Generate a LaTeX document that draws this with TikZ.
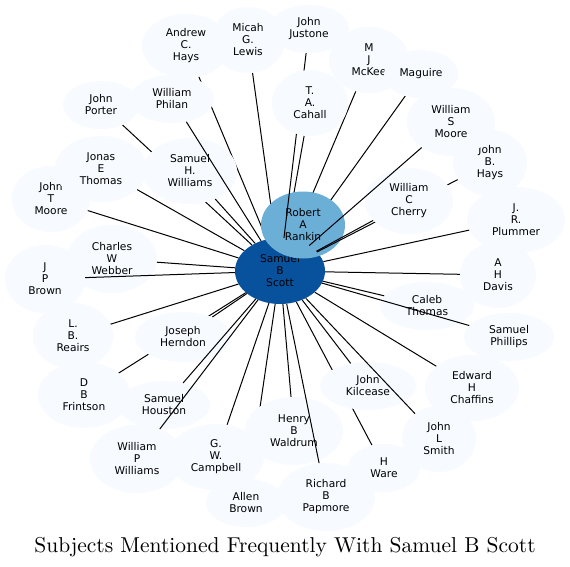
\documentclass[tikz,border=0pt]{standalone}
\usepackage{fontspec}
\usetikzlibrary{shapes.geometric}
\newfontfamily\dejavu{DejaVu Sans}
\newfontfamily\titlefnt{lmroman10-regular}[Extension=.otf]
\definecolor{nfill}{HTML}{F7FBFF}
\definecolor{scottc}{HTML}{08519C}
\definecolor{rankc}{HTML}{6BAED6}
\pgfdeclarelayer{bg}
\pgfdeclarelayer{eback}
\pgfdeclarelayer{ncenter}
\pgfdeclarelayer{emid}
\pgfdeclarelayer{efront}
\pgfsetlayers{bg,eback,ncenter,emid,main,efront}
\begin{document}
\begin{tikzpicture}[x=1pt,y=-1pt,
  pn/.style={ellipse, fill=nfill, inner sep=0pt, align=center, text=black,
    font={\dejavu\fontsize{10.67}{12}\selectfont}},
  sz/.style 2 args={minimum width=2*#1, minimum height=2*#2},
  edge/.style={line width=1pt, black},
  titlefont/.style={font={\titlefnt\fontsize{21.5}{26}\selectfont}}]
\begin{pgfonlayer}{bg}
\fill[white] (0,0) rectangle (570,567);
\end{pgfonlayer}
\useasboundingbox (0,0) rectangle (570,567);
% center nodes
\begin{pgfonlayer}{ncenter}
\node[pn, sz={45}{33}, fill=scottc] (scott) at (280,271) {Samuel\\B\\Scott};
\node[pn, sz={42}{33.5}, fill=rankc] (rankin) at (303,225) {Robert\\A\\Rankin};
\end{pgfonlayer}
% outer nodes
\node[pn, sz={44}{32}] (andrew) at (186,46) {Andrew\\C.\\Hays};
\node[pn, sz={37}{33}] (micah) at (248,40) {Micah\\G.\\Lewis};
\node[pn, sz={40}{24}] (justone) at (309,29) {John\\Justone};
\node[pn, sz={40}{33}] (mckee) at (369,60) {M\\J\\McKee};
\node[pn, sz={37}{24}] (maguire) at (421,74) {Maguire};
\node[pn, sz={38}{24}] (porter) at (101,105) {John\\Porter};
\node[pn, sz={42}{24}] (philan) at (172,99) {William\\Philan};
\node[pn, sz={38}{33}] (cahall) at (310,103) {T.\\A.\\Cahall};
\node[pn, sz={37}{33}] (jbhays) at (490,163) {John\\B.\\Hays};
\node[pn, sz={44}{34}] (wsmoore) at (451,122) {William\\S\\Moore};
\node[pn, sz={39}{33}] (jtmoore) at (51,199) {John\\T\\Moore};
\node[pn, sz={46}{33}] (jonas) at (101,169) {Jonas\\E\\Thomas};
\node[pn, sz={47}{33}] (shw) at (190,171) {Samuel\\H.\\Williams};
\node[pn, sz={44}{33}] (cherry) at (409,201) {William\\C\\Cherry};
\node[pn, sz={49}{33}] (plummer) at (516,220) {J.\\R.\\Plummer};
\node[pn, sz={40}{34}] (jpbrown) at (45,279) {J\\P\\Brown};
\node[pn, sz={45}{34}] (webber) at (112,259) {Charles\\W\\Webber};
\node[pn, sz={38}{33}] (davis) at (498,275) {A\\H\\Davis};
\node[pn, sz={47}{24}] (caleb) at (427,306) {Caleb\\Thomas};
\node[pn, sz={40}{33}] (reairs) at (73,336) {L.\\B.\\Reairs};
\node[pn, sz={48}{25}] (herndon) at (183,337) {Joseph\\Herndon};
\node[pn, sz={45}{24}] (phillips) at (509,337) {Samuel\\Phillips};
\node[pn, sz={46}{33}] (frintson) at (84,395) {D\\B\\Frintson};
\node[pn, sz={46}{24}] (houston) at (164,405) {Samuel\\Houston};
\node[pn, sz={48}{24}] (kilcease) at (368,386) {John\\Kilcease};
\node[pn, sz={47}{33}] (chaffins) at (472,388) {Edward\\H\\Chaffins};
\node[pn, sz={47}{34}] (wpw) at (137,459) {William\\P\\Williams};
\node[pn, sz={48}{33}] (campbell) at (216,457) {G.\\W.\\Campbell};
\node[pn, sz={49}{34}] (waldrum) at (294,431) {Henry\\B\\Waldrum};
\node[pn, sz={37}{33}] (smith) at (439,439) {John\\L\\Smith};
\node[pn, sz={36}{24}] (ware) at (384,468) {H\\Ware};
\node[pn, sz={40}{24}] (allen) at (246,503) {Allen\\Brown};
\node[pn, sz={49}{34}] (papmore) at (326,497) {Richard\\B\\Papmore};
% edges hidden behind nodes
\begin{pgfonlayer}{eback}
\foreach \n in {porter,andrew,micah,cahall,mckee,maguire,ware,allen,frintson}
  \draw[edge] (scott) -- (\n);
\end{pgfonlayer}
% edges above the centre nodes, below outer nodes
\begin{pgfonlayer}{emid}
\foreach \n in {justone,jbhays}
  \draw[edge] (scott) -- (\n);
\end{pgfonlayer}
% edges on top
\begin{pgfonlayer}{efront}
\foreach \n in {wsmoore,cherry,plummer,davis,caleb,phillips,chaffins,kilcease,smith,papmore,waldrum,campbell,wpw,houston,herndon,reairs,jpbrown,webber,jtmoore,jonas,shw,philan}
  \draw[edge] (scott) -- (\n);
\end{pgfonlayer}
\node[titlefont, anchor=base] (title) at (285,552) {Subjects Mentioned Frequently With Samuel B Scott};
\end{tikzpicture}
\end{document}
